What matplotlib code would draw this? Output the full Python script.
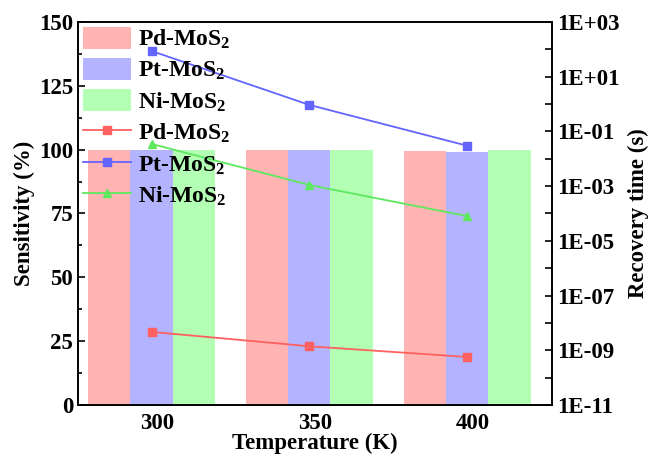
import numpy as np
import matplotlib
matplotlib.use('Agg')
import matplotlib.pyplot as plt
import matplotlib.transforms as mtransforms
from matplotlib.ticker import FixedLocator, NullFormatter

plt.rcParams['font.family'] = 'Liberation Serif'
plt.rcParams['font.weight'] = 'bold'
plt.rcParams['axes.labelweight'] = 'bold'
plt.rcParams['mathtext.fontset'] = 'custom'
plt.rcParams['mathtext.rm'] = 'Liberation Serif:bold'
plt.rcParams['mathtext.it'] = 'Liberation Serif:bold'
plt.rcParams['mathtext.bf'] = 'Liberation Serif:bold'

# Data
temps = [300, 350, 400]
labels = ['Pd-MoS$_2$', 'Pt-MoS$_2$', 'Ni-MoS$_2$']
sens_pd = [100.0, 99.8, 99.4]
sens_pt = [99.8, 99.7, 99.1]
sens_ni = [100.0, 99.9, 99.9]
rec_pd = [4.7e-9, 1.4e-9, 5.7e-10]
rec_pt = [87.0, 0.93, 0.03]
rec_ni = [0.035, 1.1e-3, 8e-5]

bar_colors = ['#FFB3B3', '#B3B3FF', '#B3FFB3']
line_colors = ['#FF6060', '#6464FF', '#5EE85E']
markers = ['s', 's', '^']

FS = 16.5

fig = plt.figure(figsize=(6.48, 4.57), dpi=100)
ax = fig.add_axes([0.1204, 0.1138, 0.7315, 0.8381])
ax2 = ax.twinx()

width = 13.4
x = np.array(temps, dtype=float)
handles = []
for i, vals in enumerate([sens_pd, sens_pt, sens_ni]):
    b = ax.bar(x + (i - 1) * width, vals, width, color=bar_colors[i],
               edgecolor='none', label=labels[i])
    handles.append(b)

for i, vals in enumerate([rec_pd, rec_pt, rec_ni]):
    l, = ax2.plot(x, vals, color=line_colors[i], marker=markers[i], markersize=6,
                  lw=1.3, label=labels[i])
    handles.append(l)

ax.set_xlim(276.7, 426.9)
ax.set_ylim(0, 150)
ax.set_yticks([0, 25, 50, 75, 100, 125, 150])
ax.yaxis.set_minor_locator(FixedLocator(np.arange(12.5, 150, 25)))
ax.set_xticks(temps)
ax.tick_params(axis='x', length=0, labelsize=FS, pad=6)
ax.tick_params(axis='y', which='major', direction='in', length=5, width=1.2, labelsize=FS)
ax.tick_params(axis='y', which='minor', direction='in', length=3, width=1.2)
# tick labels sit a bit right of the bar groups in the reference
offset = mtransforms.ScaledTranslation(6 / 100, 0, fig.dpi_scale_trans)
for lab in ax.get_xticklabels():
    lab.set_transform(lab.get_transform() + offset)

ax2.set_yscale('log')
ax2.set_ylim(1e-11, 1e3)
ax2.yaxis.set_major_locator(FixedLocator([10.0 ** e for e in range(-11, 4, 2)]))
ax2.yaxis.set_minor_locator(FixedLocator([10.0 ** e for e in range(-10, 3, 2)]))
ax2.yaxis.set_minor_formatter(NullFormatter())
ax2.set_yticklabels(['1E-11', '1E-09', '1E-07', '1E-05', '1E-03', '1E-01', '1E+01', '1E+03'])
ax2.tick_params(axis='y', which='both', direction='in', length=5, width=1.2, labelsize=FS)

for a in (ax, ax2):
    for s in a.spines.values():
        s.set_linewidth(1.2)

ax.set_xlabel('Temperature (K)', fontsize=FS, labelpad=-1)
ax.set_ylabel('Sensitivity (%)', fontsize=FS, labelpad=3)
ax2.set_ylabel('Recovery time (s)', fontsize=FS, labelpad=6)

ax2.legend(handles=handles, loc='upper left', frameon=False, fontsize=17,
           handlelength=2.05, handleheight=1.05, labelspacing=0.3,
           handletextpad=0.3, borderaxespad=0.1, borderpad=0.1)

fig.savefig('out.png', dpi=100)
